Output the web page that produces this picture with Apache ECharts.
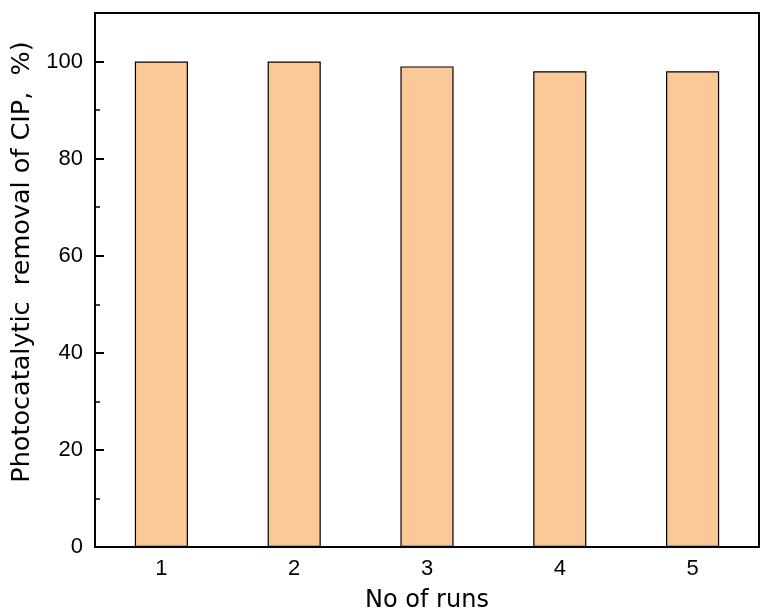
<!DOCTYPE html>
<html>
<head>
<meta charset="utf-8">
<script src="https://cdn.jsdelivr.net/npm/echarts@6/dist/echarts.min.js"></script>
<style>
  html, body { margin: 0; padding: 0; background: #fff; }
  #chart { width: 761px; height: 615px; }
</style>
</head>
<body>
<div id="chart"></div>
<script>
// Recycling runs and the photocatalytic CIP removal for each run
const runs = ['1', '2', '3', '4', '5'];
const removal = [100, 100, 99, 98, 98];
const yLabels = [0, 20, 40, 60, 80, 100];

const FONT = '"Liberation Sans", Arial, sans-serif';
const TITLE_FONT = '"DejaVu Sans", sans-serif';
const chart = echarts.init(document.getElementById('chart'), null, { renderer: 'canvas' });

const grid = {
  left: 95, right: 2, top: 13, bottom: 68,
  outerBoundsMode: 'none',
  containLabel: false,
  show: true, borderColor: '#000', borderWidth: 2, backgroundColor: 'transparent'
};

chart.setOption({
  animation: false,
  grid: grid,
  xAxis: [
    {
      type: 'category',
      data: runs,
      name: 'No of runs',
      nameLocation: 'middle',
      nameGap: 42,
      nameTextStyle: { fontFamily: TITLE_FONT, fontSize: 24, color: '#000' },
      axisLine: { lineStyle: { color: '#000', width: 2 } },
      axisTick: { alignWithLabel: true, inside: true, length: 9, lineStyle: { color: '#000', width: 2 } },
      axisLabel: { fontFamily: FONT, fontSize: 22, color: '#000', margin: 11 },
      splitLine: { show: false }
    },
    {
      // boundary ticks between the runs
      type: 'category',
      data: runs,
      position: 'bottom',
      axisLine: { show: false },
      axisTick: { inside: true, length: 5, lineStyle: { color: '#000', width: 1.5 } },
      axisLabel: { show: false },
      splitLine: { show: false }
    }
  ],
  yAxis: [
    {
      type: 'value',
      min: 0, max: 110, interval: 10,
      name: 'Photocatalytic  removal of CIP,  %)',
      nameLocation: 'middle',
      nameGap: 58,
      nameTextStyle: { fontFamily: TITLE_FONT, fontSize: 25.5, color: '#000', padding: [0, 0, 0, 36] },
      axisLine: { show: true, lineStyle: { color: '#000', width: 2 } },
      axisTick: { show: true, inside: true, length: 5, lineStyle: { color: '#000', width: 1.5 } },
      axisLabel: {
        fontFamily: FONT, fontSize: 22, color: '#000', margin: 12,
        formatter: function (v) { return yLabels.indexOf(v) >= 0 ? String(v) : ''; }
      },
      splitLine: { show: false }
    },
    {
      // longer major ticks every 20
      type: 'value',
      min: 0, max: 110, interval: 20,
      position: 'left',
      axisLine: { show: false },
      axisTick: { show: true, inside: true, length: 9, lineStyle: { color: '#000', width: 2 } },
      axisLabel: { show: false },
      splitLine: { show: false }
    }
  ],
  series: [
    {
      type: 'bar',
      xAxisIndex: 0,
      yAxisIndex: 0,
      data: removal,
      barWidth: '40%',
      itemStyle: { color: '#FBC998', borderColor: '#000', borderWidth: 1.2 },
      z: 1
    }
  ]
});
</script>
</body>
</html>
